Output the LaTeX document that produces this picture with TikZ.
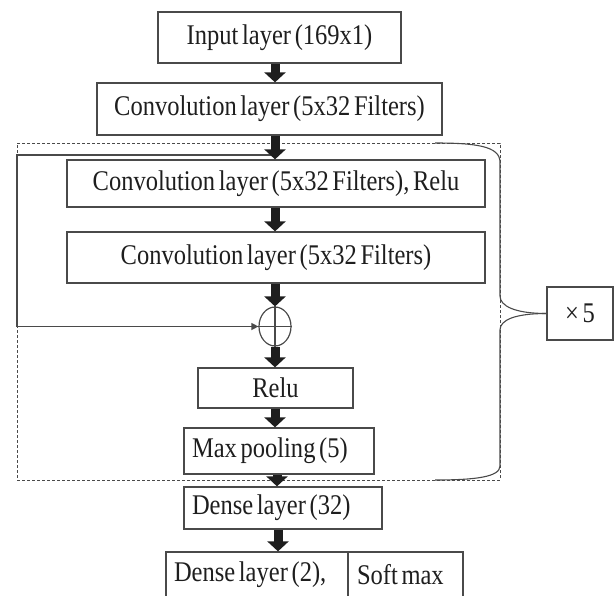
\documentclass[tikz,border=0pt]{standalone}
\usepackage{fontspec}
\setmainfont{Liberation Serif}[FakeStretch=0.86, WordSpace=0.6]
\usetikzlibrary{arrows.meta,shapes.geometric}
\definecolor{edge}{HTML}{4A4A4A}
\definecolor{ink}{HTML}{1E1E1E}
\begin{document}
\begin{tikzpicture}[x=1pt,y=-1pt,
  lbl/.style={font=\fontsize{28.5}{32}\selectfont, text=ink},
  box/.style={draw=edge, line width=1.3pt, inner sep=0pt, lbl, align=center},
  lbox/.style={box, align=flush left},
  flow/.style={line width=9pt, ink, -{Triangle[width=21pt,length=10pt]}},
  skipline/.style={draw=edge, line width=1.3pt, -{Triangle[width=7pt,length=7pt]}},
  repbox/.style={draw=edge, line width=1pt, dash pattern=on 3pt off 2pt},
  bracepath/.style={draw=edge, line width=1.1pt},
  sumnode/.style={ellipse, draw=edge, line width=1.2pt, minimum width=32pt, minimum height=39pt, inner sep=0pt}
]
\clip (0,0) rectangle (616,595);
\fill[white] (0,0) rectangle (616,595);

% repeated block frame
\node[repbox, minimum width=483pt, minimum height=337pt, inner sep=0pt] (rep) at (258.5,311.5) {};

% boxes
\node[box, minimum width=243pt, minimum height=51pt] (inp) at (279.5,37.5) {Input layer (169x1)};
\node[box, minimum width=345pt, minimum height=52pt] (conv1) at (269.5,109) {Convolution layer (5x32 Filters)};
\node[box, minimum width=418pt, minimum height=47pt] (convr) at (276,183.5) {Convolution layer (5x32 Filters), Relu};
\node[box, minimum width=418pt, minimum height=51pt] (conv2) at (276,257.5) {Convolution layer (5x32 Filters)};
\node[sumnode] (sum) at (275,326.5) {};
\node[box, minimum width=155pt, minimum height=40pt] (relu) at (275.5,388) {Relu};
\node[lbox, minimum width=190pt, minimum height=46pt, text width=174pt] (pool) at (279,451) {Max pooling (5)};
\node[lbox, minimum width=198pt, minimum height=42pt, text width=182pt] (d32) at (283,508) {Dense layer (32)};
\node[lbox, minimum width=182pt, minimum height=46pt, text width=166pt] (d2a) at (257,575) {Dense layer (2),};
\node[lbox, minimum width=115pt, minimum height=46pt, text width=97pt] (d2b) at (405.5,575) {Soft max};
\node[box, minimum width=66pt, minimum height=53pt] (x5) at (580,313.5) {× 5};

% cross inside the sum
\draw[edge, line width=1.1pt] (sum.north) -- (sum.south);
\draw[edge, line width=1.1pt] (sum.west) -- (sum.east);

% skip connection
\coordinate (tap) at (275,155);
\coordinate (lc) at (17,155);
\draw[skipline] (tap) -- (lc) |- (sum.west);

% brace
\coordinate (bt) at (435,143);
\coordinate (bb) at (435,480);
\draw[bracepath] (bt) .. controls (475,143) and (500,146) .. (500,162) -- (500,296)
  .. controls (500,306) and (515,313.5) .. (x5.west);
\draw[bracepath] (x5.west) .. controls (515,313.5) and (500,320) .. (500,330) -- (500,466)
  .. controls (500,477) and (475,480) .. (bb);

% flow arrows
\coordinate (ax) at (275,0);
\coordinate (ay) at (277,0);
\coordinate (az) at (278,0);
\draw[flow] (inp.south -| ax) -- (conv1.north -| ax);
\draw[flow] (conv1.south -| ax) -- (convr.north -| ax);
\draw[flow] (convr.south -| ax) -- (conv2.north -| ax);
\draw[flow] (conv2.south -| ax) -- (sum.north);
\draw[flow] (sum.south) -- (relu.north -| ax);
\draw[flow] (relu.south -| ax) -- (pool.north -| ax);
\draw[flow] (pool.south -| ay) -- (d32.north -| ay);
\draw[flow] (d32.south -| az) -- (d2a.north -| az);
\end{tikzpicture}
\end{document}
